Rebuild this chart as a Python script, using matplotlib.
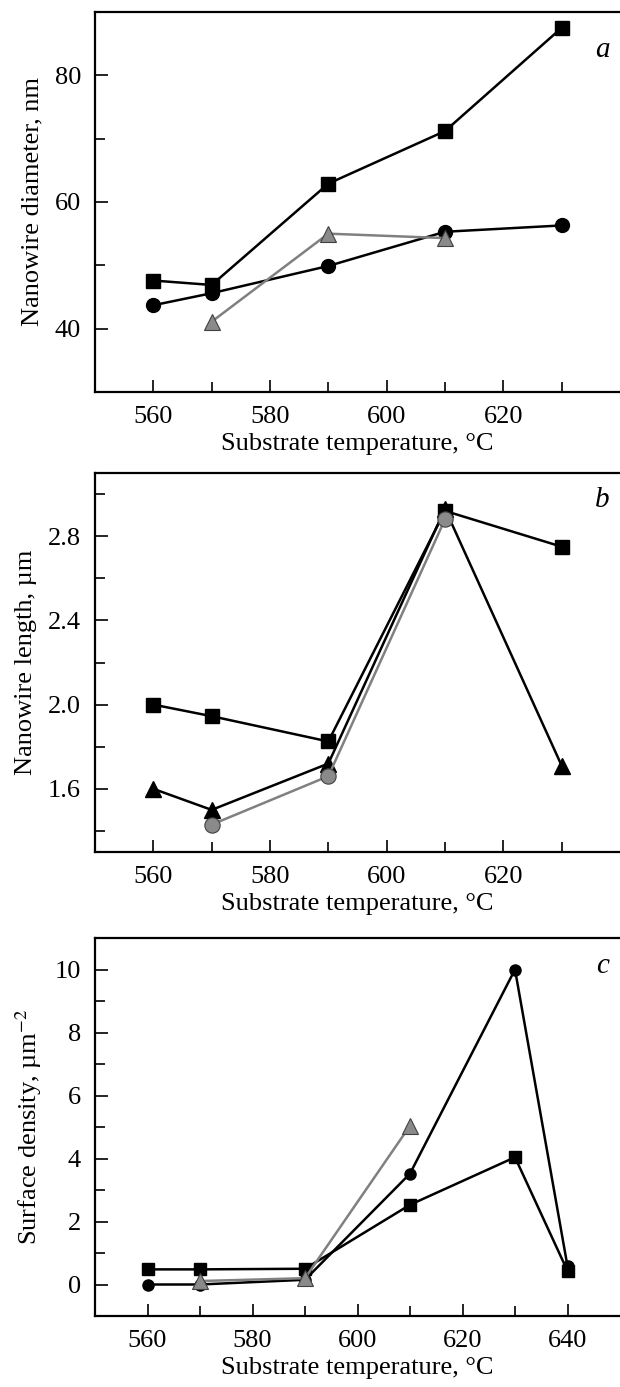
import matplotlib.pyplot as plt

plt.rcParams["font.family"] = ["Liberation Serif", "DejaVu Serif"]
plt.rcParams["mathtext.fontset"] = "stix"

# panel a: nanowire diameter, nm
a_sq_x = [560, 570, 590, 610, 630]
a_sq_y = [47.6, 46.9, 62.9, 71.2, 87.5]
a_ci_x = [560, 570, 590, 610, 630]
a_ci_y = [43.7, 45.6, 49.9, 55.3, 56.3]
a_tr_x = [570, 590, 610]
a_tr_y = [41.1, 55.0, 54.3]

# panel b: nanowire length, um
b_sq_x = [560, 570, 590, 610, 630]
b_sq_y = [2.0, 1.945, 1.825, 2.92, 2.75]
b_tr_x = [560, 570, 590, 610, 630]
b_tr_y = [1.6, 1.50, 1.72, 2.93, 1.71]
b_ci_x = [570, 590, 610]
b_ci_y = [1.43, 1.66, 2.88]

# panel c: surface density, um^-2
c_sq_x = [560, 570, 590, 610, 630, 640]
c_sq_y = [0.48, 0.48, 0.5, 2.53, 4.04, 0.43]
c_ci_x = [560, 570, 590, 610, 630, 640]
c_ci_y = [0.0, 0.0, 0.15, 3.52, 10.0, 0.58]
c_tr_x = [570, 590, 610]
c_tr_y = [0.11, 0.2, 5.04]

W, H = 620, 1387
fig = plt.figure(figsize=(W / 100, H / 100), dpi=100)


def make_ax(top, bottom):
    ax = fig.add_axes([95 / W, 1 - bottom / H, 1 - 95 / W, (bottom - top) / H])
    ax.spines["right"].set_visible(False)
    for s in ("left", "bottom", "top"):
        ax.spines[s].set_linewidth(1.6)
    ax.tick_params(which="both", direction="in", width=1.2, labelsize=19, pad=10)
    ax.tick_params(which="major", length=9)
    ax.tick_params(which="minor", length=7)
    ax.tick_params(right=False, top=False)
    return ax


black = dict(color="black", lw=1.8, mfc="black", mec="black")
grey = dict(color="#808080", lw=1.8, mfc="#8a8a8a", mec="#404040", mew=0.8)

# a
ax = make_ax(12, 392)
ax.plot(a_sq_x, a_sq_y, marker="s", ms=10, **black)
ax.plot(a_ci_x, a_ci_y, marker="o", ms=10, **black)
ax.plot(a_tr_x, a_tr_y, marker="^", ms=12, **grey)
ax.set_xlim(550, 640)
ax.set_ylim(30, 90)
ax.set_xticks([560, 580, 600, 620])
ax.set_xticks([570, 590, 610, 630], minor=True)
ax.set_yticks([40, 60, 80])
ax.set_yticks([50, 70], minor=True)
ax.set_xlabel("Substrate temperature, °C", fontsize=19, labelpad=4)
ax.set_ylabel("Nanowire diameter, nm", fontsize=19, labelpad=8)
ax.text(0.967, 0.9, "a", transform=ax.transAxes, fontsize=21, style="italic",
        ha="center", va="center")

# b
ax = make_ax(473, 852)
ax.plot(b_sq_x, b_sq_y, marker="s", ms=10, **black)
ax.plot(b_tr_x, b_tr_y, marker="^", ms=11, **black)
ax.plot(b_ci_x, b_ci_y, marker="o", ms=11, **grey)
ax.set_xlim(550, 640)
ax.set_ylim(1.3, 3.1)
ax.set_xticks([560, 580, 600, 620])
ax.set_xticks([570, 590, 610, 630], minor=True)
ax.set_yticks([1.6, 2.0, 2.4, 2.8])
ax.set_yticks([1.4, 1.8, 2.2, 2.6, 3.0], minor=True)
ax.set_yticklabels(["1.6", "2.0", "2.4", "2.8"])
ax.set_xlabel("Substrate temperature, °C", fontsize=19, labelpad=4)
ax.set_ylabel("Nanowire length, µm", fontsize=19, labelpad=8)
ax.text(0.967, 0.93, "b", transform=ax.transAxes, fontsize=21, style="italic",
        ha="center", va="center")

# c
ax = make_ax(938, 1316)
ax.plot(c_sq_x, c_sq_y, marker="s", ms=8, **black)
ax.plot(c_ci_x, c_ci_y, marker="o", ms=8, **black)
ax.plot(c_tr_x, c_tr_y, marker="^", ms=12, **grey)
ax.set_xlim(550, 650)
ax.set_ylim(-1, 11)
ax.set_xticks([560, 580, 600, 620, 640])
ax.set_xticks([570, 590, 610, 630], minor=True)
ax.set_yticks([0, 2, 4, 6, 8, 10])
ax.set_yticks([1, 3, 5, 7, 9], minor=True)
ax.set_xlabel("Substrate temperature, °C", fontsize=19, labelpad=4)
ax.set_ylabel("Surface density, µm$^{-2}$", fontsize=19, labelpad=8)
ax.text(0.967, 0.925, "c", transform=ax.transAxes, fontsize=21, style="italic",
        ha="center", va="center")

fig.savefig("out.png", dpi=100)
